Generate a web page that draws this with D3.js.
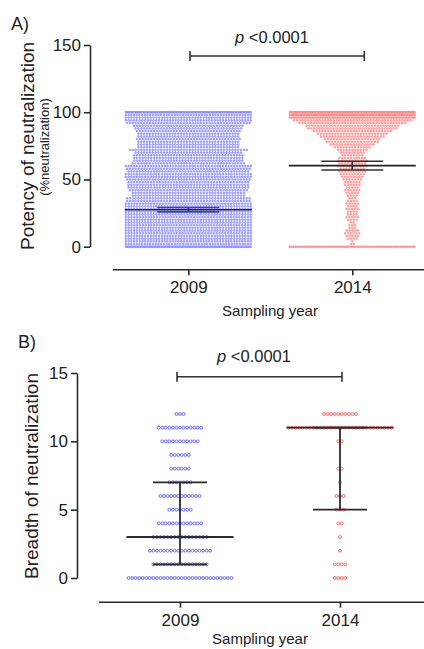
<!DOCTYPE html>
<html><head><meta charset="utf-8">
<script src="https://cdn.jsdelivr.net/npm/d3@7"></script>
<style>html,body{margin:0;padding:0;background:#fff}svg{display:block;font-family:"Liberation Sans",Arial,sans-serif}</style>
</head><body><svg id="c" width="424" height="649"></svg>
<script>
// ---------- data ----------
const groups = ["2009", "2014"];
const potencyTicks = [0, 50, 100, 150];
const potencyLevels = [0,2,4,6,8,10,12,14,16,18,20,22,24,26,28,30,32,34,36,38,40,42,44,46,48,50,52,54,56,58,60,62,64,66,68,70,72,74,76,78,80,82,84,86,88,90,92,94,96,98,100];
const potency2009Counts = [90,47,46,46,46,45,46,46,45,46, 46,45,46,46,46,46,45,44,44,40, 40,42,43,43,43,44,46,46,43,44, 46,40,39,39,39,38,42,36,36,36, 37,36,36,37,38,39,44,46,46,47, 95];
const potency2014Counts = [70,2,1,4,5,6,5,3,3,2, 4,5,4,4,5,4,5,4,3,4, 5,6,5,6,6,7,8,9,10,9, 11,10,11,10,8,9,11,13,16,19, 20,23,25,28,32,33,38,42,75,110, 140];
const potencyMean = [27.5, 60.3];
const potencySEM = [1.6, 3.3];

const breadthTicks = [0, 5, 10, 15];
const breadthLevels = [0,1,2,3,4,5,6,7,8,9,10,11,12];
const breadth2009Counts = [30,16,18,16,13,7,12,7,6,6,11,13,3];
const breadth2014Counts = [4,4,1,1,2,3,3,1,2,0,2,30,10];
const breadthMedian = [3, 11];
const breadthQ1 = [1, 5];
const breadthQ3 = [7, 11];

const pText = "<0.0001";
const colors = {blue: "#4a4aff", red: "#ff4a4a"};

// ---------- drawing ----------
const svg = d3.select("#c");
svg.append("rect").attr("width", 424).attr("height", 649).attr("fill", "#fff");
const axisColor = "#2b2b2b";

function styleAxis(g) {
  g.selectAll("path.domain").attr("stroke", axisColor).attr("stroke-width", 1.6);
  g.selectAll(".tick line").attr("stroke", axisColor).attr("stroke-width", 1.6);
  g.selectAll(".tick text").attr("fill", "#222").attr("font-size", 17)
    .attr("font-family", '"Liberation Sans",Arial,sans-serif');
}

function swarmRows(levels, counts, yScale, cx, pitch, maxWidth) {
  const pts = [];
  levels.forEach((v, i) => {
    const n = counts[i];
    if (!n) return;
    let sp = pitch;
    if ((n - 1) * sp > maxWidth) sp = maxWidth / (n - 1);
    for (let k = 0; k < n; k++) {
      pts.push({x: cx + (k - (n - 1) / 2) * sp, y: yScale(v)});
    }
  });
  return pts;
}

function pLabel(x, y) {
  const t = svg.append("text").attr("x", x).attr("y", y).attr("text-anchor", "middle")
    .attr("font-size", 16.5).attr("fill", "#222");
  t.append("tspan").attr("font-style", "italic").text("p");
  t.append("tspan").text(" " + pText);
}

function bracket(x1, x2, y) {
  const g = svg.append("g").attr("stroke", "#333").attr("stroke-width", 1.6).attr("fill", "none");
  g.append("line").attr("x1", x1).attr("x2", x2).attr("y1", y).attr("y2", y);
  g.append("line").attr("x1", x1).attr("x2", x1).attr("y1", y - 5).attr("y2", y + 5);
  g.append("line").attr("x1", x2).attr("x2", x2).attr("y1", y - 5).attr("y2", y + 5);
}

// ===== Panel A =====
const yA = d3.scaleLinear().domain([0, 150]).range([246.7, 45]);
const xA = d3.scalePoint().domain(groups).range([188.3, 352.3]);

svg.append("text").attr("x", 11).attr("y", 30).attr("font-size", 18).attr("fill", "#222").text("A)");

const gyA = svg.append("g").attr("transform", "translate(90,0)")
  .call(d3.axisLeft(yA).tickValues(potencyTicks).tickSize(6).tickPadding(3).tickSizeOuter(0));
styleAxis(gyA);

const gxA = svg.append("g").attr("transform", "translate(0,269.3)")
  .call(d3.axisBottom(xA).tickSize(6).tickPadding(6).tickSizeOuter(0));
gxA.select("path.domain").attr("d", "M113,0.5H424");
styleAxis(gxA);

svg.append("text").attr("x", 270).attr("y", 316).attr("text-anchor", "middle")
  .attr("font-size", 15).attr("fill", "#222").text("Sampling year");

svg.append("text").attr("transform", "translate(34,146) rotate(-90)").attr("text-anchor", "middle")
  .attr("font-size", 19).attr("fill", "#222").text("Potency of neutralization");
svg.append("text").attr("transform", "translate(49,147) rotate(-90)").attr("text-anchor", "middle")
  .attr("font-size", 13).attr("fill", "#222").text("(%neutralization)");

const semCapColor = ["#3a3ad8", "#333"];
[potency2009Counts, potency2014Counts].forEach((counts, gi) => {
  const cx = xA(groups[gi]);
  const col = gi === 0 ? "#5a5aff" : "#ff5a5a";
  const fill = gi === 0 ? "#b4b4ff" : "#ffb4b4";
  const pts = swarmRows(potencyLevels, counts, yA, cx, 2.85, 125);
  svg.append("g").selectAll("circle").data(pts).join("circle")
    .attr("cx", d => d.x).attr("cy", d => d.y).attr("r", 0.95)
    .attr("fill", fill).attr("stroke", col).attr("stroke-width", 0.45).attr("stroke-opacity", 0.85);
  const m = potencyMean[gi], s = potencySEM[gi];
  const g = svg.append("g").attr("stroke", semCapColor[gi]).attr("stroke-width", 1.6);
  g.append("line").attr("x1", cx - 31).attr("x2", cx + 31).attr("y1", yA(m + s)).attr("y2", yA(m + s));
  g.append("line").attr("x1", cx - 31).attr("x2", cx + 31).attr("y1", yA(m - s)).attr("y2", yA(m - s));
  g.append("line").attr("x1", cx).attr("x2", cx).attr("y1", yA(m + s)).attr("y2", yA(m - s));
  svg.append("line").attr("x1", cx - 63.5).attr("x2", cx + 63.5).attr("y1", yA(m)).attr("y2", yA(m))
    .attr("stroke", "#222").attr("stroke-width", 1.6);
});

bracket(xA("2009") + 1.7, xA("2014") + 12, 56);
pLabel(272, 43);

// ===== Panel B =====
const yB = d3.scaleLinear().domain([0, 15]).range([578, 373]);
const xB = d3.scalePoint().domain(groups).range([180, 340]);

svg.append("text").attr("x", 18).attr("y", 348).attr("font-size", 18).attr("fill", "#222").text("B)");

const gyB = svg.append("g").attr("transform", "translate(77,0)")
  .call(d3.axisLeft(yB).tickValues(breadthTicks).tickSize(6).tickPadding(3).tickSizeOuter(0));
styleAxis(gyB);

const gxB = svg.append("g").attr("transform", "translate(0,601.7)")
  .call(d3.axisBottom(xB).tickSize(6).tickPadding(6).tickSizeOuter(0));
gxB.select("path.domain").attr("d", "M99,0.5H424");
styleAxis(gxB);

svg.append("text").attr("x", 260).attr("y", 644).attr("text-anchor", "middle")
  .attr("font-size", 15).attr("fill", "#222").text("Sampling year");

svg.append("text").attr("transform", "translate(38,476) rotate(-90)").attr("text-anchor", "middle")
  .attr("font-size", 19).attr("fill", "#222").text("Breadth of neutralization");

[breadth2009Counts, breadth2014Counts].forEach((counts, gi) => {
  const cx = xB(groups[gi]);
  const col = gi === 0 ? colors.blue : colors.red;
  const pts = swarmRows(breadthLevels, counts, yB, cx, 3.55, 110);
  svg.append("g").selectAll("circle").data(pts).join("circle")
    .attr("cx", d => d.x).attr("cy", d => d.y).attr("r", 1.45)
    .attr("fill", "none").attr("stroke", col).attr("stroke-width", 0.8);
  const g = svg.append("g").attr("stroke", "#2b2b2b").attr("stroke-width", 1.8);
  g.append("line").attr("x1", cx).attr("x2", cx).attr("y1", yB(breadthQ3[gi])).attr("y2", yB(breadthQ1[gi]));
  g.append("line").attr("x1", cx - 27).attr("x2", cx + 27).attr("y1", yB(breadthQ3[gi])).attr("y2", yB(breadthQ3[gi]));
  g.append("line").attr("x1", cx - 27).attr("x2", cx + 27).attr("y1", yB(breadthQ1[gi])).attr("y2", yB(breadthQ1[gi]));
  g.append("line").attr("x1", cx - 53.5).attr("x2", cx + 53.5).attr("y1", yB(breadthMedian[gi])).attr("y2", yB(breadthMedian[gi]));
});

bracket(xB("2009") - 3, xB("2014") + 2, 376.7);
pLabel(254, 362);
</script></body></html>
